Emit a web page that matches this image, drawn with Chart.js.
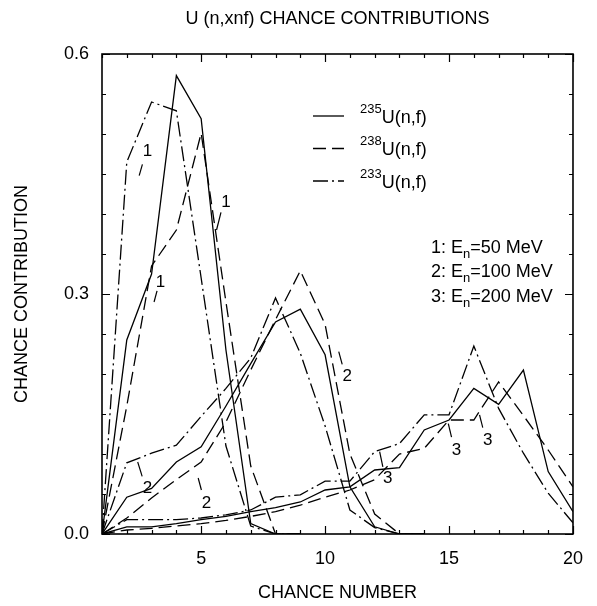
<!DOCTYPE html>
<html>
<head>
<meta charset="utf-8">
<script src="https://cdn.jsdelivr.net/npm/chart.js@4.4.1/dist/chart.umd.min.js"></script>
<style>
  html, body { margin: 0; padding: 0; background: #fff; }
</style>
</head>
<body>
<canvas id="chart" width="597" height="606"></canvas>
<script>
// chance number axis
const chances = [1, 2, 3, 4, 5, 6, 7, 8, 9, 10, 11, 12, 13, 14, 15, 16, 17, 18, 19, 20];

// curve set 1: En = 50 MeV
const u235_50 = [0, 0.2425, 0.325, 0.573, 0.519, 0.23, 0.013, 0, 0];
const u238_50 = [0, 0.16, 0.335, 0.38, 0.501, 0.29, 0.085, 0, 0];
const u233_50 = [0, 0.465, 0.54, 0.529, 0.32, 0.11, 0.01, 0, 0];

// curve set 2: En = 100 MeV
const u235_100 = [0, 0.046, 0.057, 0.09, 0.109, 0.16, 0.213, 0.265, 0.281, 0.224, 0.059, 0.009, 0, 0];
const u238_100 = [0, 0.02, 0.045, 0.068, 0.09, 0.14, 0.205, 0.268, 0.329, 0.262, 0.1, 0.025, 0, 0];
const u233_100 = [0, 0.089, 0.101, 0.111, 0.147, 0.182, 0.22, 0.295, 0.226, 0.135, 0.03, 0.008, 0, 0];

// curve set 3: En = 200 MeV
const u235_200 = [0, 0.009, 0.009, 0.013, 0.018, 0.022, 0.028, 0.033, 0.04, 0.055, 0.059, 0.08, 0.083, 0.13, 0.1425, 0.182, 0.162, 0.205, 0.078, 0.028];
const u238_200 = [0, 0.005, 0.007, 0.01, 0.013, 0.017, 0.022, 0.028, 0.036, 0.046, 0.055, 0.068, 0.1, 0.107, 0.1425, 0.1425, 0.19, 0.148, 0.105, 0.059];
const u233_200 = [0, 0.018, 0.018, 0.018, 0.02, 0.024, 0.03, 0.046, 0.049, 0.066, 0.066, 0.103, 0.113, 0.149, 0.149, 0.235, 0.157, 0.101, 0.051, 0.014];

const xTicks = [5, 10, 15, 20];
const yTicks = [0, 0.3, 0.6];

const nuclides = ['235', '238', '233'];
const energyLabels = ['1: E|n|=50 MeV', '2: E|n|=100 MeV', '3: E|n|=200 MeV'];

// curve number labels: text, position, leader line (data units)
const curveLabels = [
  { t: '1', x: 2.83, y: 0.478, lead: [2.63, 0.462, 2.50, 0.448] },
  { t: '1', x: 6.0, y: 0.415, lead: [5.80, 0.402, 5.62, 0.38] },
  { t: '1', x: 3.36, y: 0.315, lead: [3.22, 0.304, 3.10, 0.29] },
  { t: '2', x: 2.83, y: 0.057, lead: [2.44, 0.09, 2.62, 0.072] },
  { t: '2', x: 5.21, y: 0.038, lead: [4.88, 0.07, 5.01, 0.055] },
  { t: '2', x: 10.89, y: 0.197, lead: [10.55, 0.228, 10.69, 0.212] },
  { t: '3', x: 12.53, y: 0.07, lead: [12.2, 0.103, 12.33, 0.084] },
  { t: '3', x: 15.3, y: 0.105, lead: [14.97, 0.138, 15.1, 0.121] },
  { t: '3', x: 16.56, y: 0.1175, lead: [16.23, 0.149, 16.36, 0.133] }
];

const FONT = '"Liberation Sans", Arial, Helvetica, sans-serif';
const SOLID = [];
const DASHED = [13, 6];
const DASHDOT = [15, 4, 2, 4];

function pts(arr) {
  return arr.map((v, i) => ({ x: chances[i], y: v }));
}

function line(arr, dash) {
  return {
    data: pts(arr),
    borderColor: '#000',
    borderWidth: 1.3,
    borderDash: dash,
    pointRadius: 0,
    tension: 0,
    fill: false
  };
}

const datasets = [
  line(u235_50, SOLID), line(u238_50, DASHED), line(u233_50, DASHDOT),
  line(u235_100, SOLID), line(u238_100, DASHED), line(u233_100, DASHDOT),
  line(u235_200, SOLID), line(u238_200, DASHED), line(u233_200, DASHDOT)
];

// frame, inward ticks, title, legend and curve labels
const decor = {
  id: 'decor',
  afterDatasetsDraw(chart) {
    const { ctx, chartArea: a, scales: { x, y } } = chart;
    ctx.save();
    ctx.strokeStyle = '#000';
    ctx.fillStyle = '#000';
    ctx.setLineDash([]);

    ctx.lineWidth = 1.2;
    ctx.beginPath();
    for (let v = 1; v <= 20; v++) {
      const px = Math.round(x.getPixelForValue(v)) + 0.5;
      const len = v % 5 === 0 ? 8 : 4;
      ctx.moveTo(px, a.bottom); ctx.lineTo(px, a.bottom - len);
      ctx.moveTo(px, a.top); ctx.lineTo(px, a.top + len);
    }
    for (let i = 0; i <= 12; i++) {
      const py = Math.round(y.getPixelForValue(i * 0.05)) + 0.5;
      const len = i % 6 === 0 ? 8 : 4;
      ctx.moveTo(a.left, py); ctx.lineTo(a.left + len, py);
      ctx.moveTo(a.right, py); ctx.lineTo(a.right - len, py);
    }
    ctx.stroke();

    ctx.lineWidth = 1.6;
    ctx.strokeRect(a.left, a.top, a.right - a.left, a.bottom - a.top);

    // title
    ctx.font = '18px ' + FONT;
    ctx.textAlign = 'center';
    ctx.textBaseline = 'middle';
    ctx.fillText('U (n,xnf) CHANCE CONTRIBUTIONS', (a.left + a.right) / 2, 19);

    // nuclide legend
    const styles = [SOLID, DASHED, DASHDOT];
    ctx.textAlign = 'left';
    ctx.lineWidth = 1.3;
    nuclides.forEach((n, i) => {
      const ry = a.top + 62 + i * 32.5;
      ctx.setLineDash(styles[i]);
      ctx.beginPath();
      ctx.moveTo(a.left + 211, ry);
      ctx.lineTo(a.left + 242, ry);
      ctx.stroke();
      ctx.setLineDash([]);
      ctx.font = '13px ' + FONT;
      ctx.fillText(n, a.left + 258, ry - 7);
      const w = ctx.measureText(n).width;
      ctx.font = '18px ' + FONT;
      ctx.fillText('U(n,f)', a.left + 258 + w, ry + 2);
    });

    // energy legend
    energyLabels.forEach((s, i) => {
      const [pre, sub, post] = s.split('|');
      const ry = a.top + 194 + i * 24.5;
      let tx = a.left + 329;
      ctx.font = '18px ' + FONT;
      ctx.fillText(pre, tx, ry);
      tx += ctx.measureText(pre).width;
      ctx.font = '13px ' + FONT;
      ctx.fillText(sub, tx, ry + 6);
      tx += ctx.measureText(sub).width;
      ctx.font = '18px ' + FONT;
      ctx.fillText(post, tx, ry);
    });

    // curve labels with leaders
    ctx.textAlign = 'center';
    ctx.font = '17px ' + FONT;
    ctx.lineWidth = 1.2;
    curveLabels.forEach(l => {
      ctx.fillText(l.t, x.getPixelForValue(l.x), y.getPixelForValue(l.y));
      ctx.beginPath();
      ctx.moveTo(x.getPixelForValue(l.lead[0]), y.getPixelForValue(l.lead[1]));
      ctx.lineTo(x.getPixelForValue(l.lead[2]), y.getPixelForValue(l.lead[3]));
      ctx.stroke();
    });
    ctx.restore();
  }
};

new Chart(document.getElementById('chart'), {
  type: 'line',
  data: { datasets },
  options: {
    responsive: false,
    animation: false,
    devicePixelRatio: 1,
    layout: { padding: { top: 54, right: 15, left: 0, bottom: 0 } },
    plugins: { legend: { display: false }, tooltip: { enabled: false } },
    scales: {
      x: {
        type: 'linear',
        min: 1,
        max: 20,
        grid: { display: false, drawTicks: false },
        border: { display: false },
        afterBuildTicks: s => { s.ticks = xTicks.map(v => ({ value: v })); },
        afterFit: s => { s.height = 72; },
        ticks: { color: '#000', font: { family: FONT, size: 18 }, padding: 14, maxRotation: 0 },
        title: { display: true, text: 'CHANCE NUMBER', color: '#000', font: { family: FONT, size: 18 }, padding: { top: 0, bottom: 2 } }
      },
      y: {
        type: 'linear',
        min: 0,
        max: 0.6,
        grid: { display: false, drawTicks: false },
        border: { display: false },
        afterBuildTicks: s => { s.ticks = yTicks.map(v => ({ value: v })); },
        afterFit: s => { s.width = 102; },
        ticks: { color: '#000', font: { family: FONT, size: 18 }, padding: 13, callback: v => v.toFixed(1) },
        title: { display: true, text: 'CHANCE CONTRIBUTION', color: '#000', font: { family: FONT, size: 18 }, padding: { top: 11, bottom: 0 } }
      }
    }
  },
  plugins: [decor]
});
</script>
</body>
</html>
